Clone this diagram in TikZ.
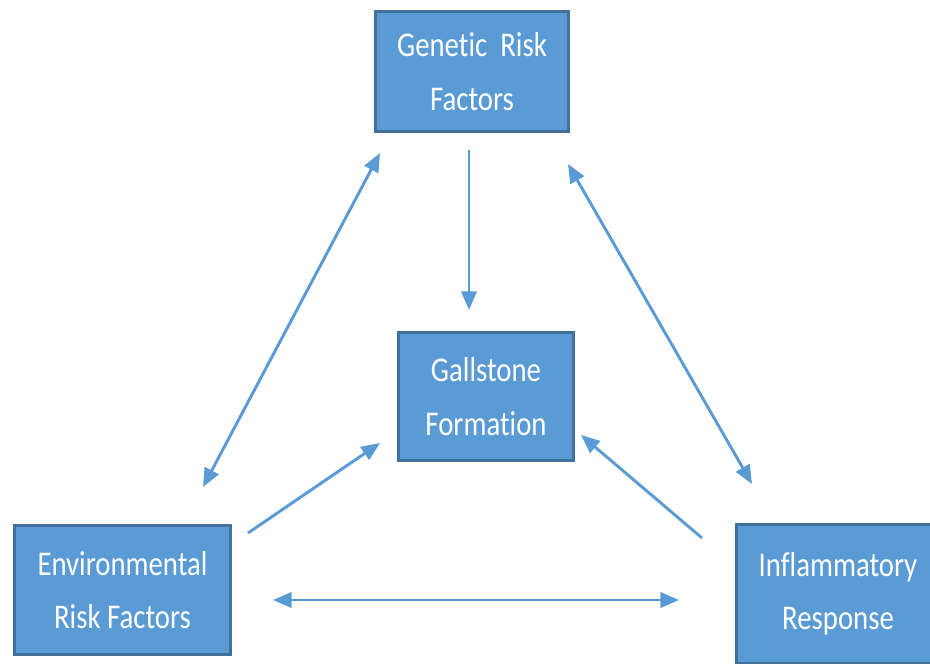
\documentclass[tikz,border=0pt]{standalone}
\usepackage{fontspec}
\setmainfont[FakeStretch=0.83,RawFeature={-liga;-clig;-calt;-dlig}]{Carlito}
\usetikzlibrary{arrows.meta}
\definecolor{boxblue}{HTML}{5B9BD5}
\definecolor{edgeblue}{HTML}{41719C}

\begin{document}
\begin{tikzpicture}
      [x=0.75pt,y=-0.75pt,
        >={Triangle[length=14pt,width=11.5pt]},
        box/.style={draw=edgeblue,line width=2.2pt,fill=boxblue,text=white,
          align=center,inner sep=0pt,font=\fontsize{26}{40}\selectfont},
        link/.style={draw=boxblue,line width=2.2pt}]
      \useasboundingbox (0,0) rectangle (930,663);
      \clip (0,0) rectangle (930,663);
      % boxes
      \node[box,minimum width=145pt,minimum height=90pt] (genetic) at (472,71.5) {Genetic\ \ Risk\\Factors};
      \node[box,minimum width=131pt,minimum height=96pt] (gallstone) at (486,396.5) {Gallstone\\Formation};
      \node[box,minimum width=162pt,minimum height=97pt] (environ) at (122.5,590) {Environmental\\Risk Factors};
      \node[box,minimum width=152pt,minimum height=104pt] (inflam) at (838,594) {Inflammatory\\Response};
      % arrow ends
      \coordinate (gen-s) at (469,150);  \coordinate (gal-n) at (469,310);
      \coordinate (gen-l) at (380,153);  \coordinate (env-t) at (203,487);
      \coordinate (gen-r) at (568,164);  \coordinate (inf-t) at (752,484);
      \coordinate (env-r) at (248,533);  \coordinate (gal-l) at (380,443);
      \coordinate (inf-l) at (702,538);  \coordinate (gal-r) at (581,435);
      \coordinate (env-b) at (273,600);  \coordinate (inf-b) at (679,600);
      \draw[link,->] (gen-s) -- (gal-n);
      \draw[link,<->] (gen-l) -- (env-t);
      \draw[link,<->] (gen-r) -- (inf-t);
      \draw[link,->] (env-r) -- (gal-l);
      \draw[link,->] (inf-l) -- (gal-r);
      \draw[link,<->] (env-b) -- (inf-b);
    \end{tikzpicture}
\end{document}
